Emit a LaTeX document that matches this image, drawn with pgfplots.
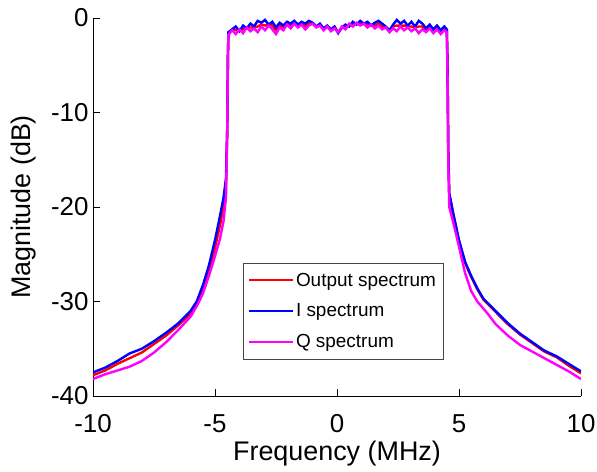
\documentclass[border=0pt]{standalone}
\usepackage{pgfplots}
\pgfplotsset{compat=1.18}
\usepackage{fontspec}
\setmainfont{Liberation Sans}
\definecolor{cred}{RGB}{255,0,0}
\definecolor{cblue}{RGB}{0,0,255}
\definecolor{cmag}{RGB}{255,0,255}
\definecolor{cgray}{RGB}{70,70,70}
\begin{document}
\begin{tikzpicture}
\begin{axis}[
  scale only axis,
  width=488bp, height=378bp,
  xmin=-10, xmax=10, ymin=-40, ymax=0,
  xtick={-10,-5,0,5,10}, ytick={-40,-30,-20,-10,0},
  axis x line*=bottom, axis y line*=left,
  axis line style={-, line width=0.8bp},
  tick align=inside, major tick length=7bp,
  tick style={black, line width=0.8bp},
  /pgf/number format/assume math mode=true,
  ticklabel style={font=\fontsize{26}{30}\selectfont},
  yticklabel style={xshift=-1bp},
  xticklabel style={yshift=-15bp},
  label style={font=\fontsize{27}{31}\selectfont},
  xlabel={Frequency (MHz)}, ylabel={Magnitude (dB)},
  xlabel style={yshift=-1bp}, ylabel style={yshift=8bp},
  legend style={at={(0.307,0.352)}, anchor=north west, draw=cgray,
    font=\fontsize{19}{22}\selectfont, row sep=12bp, inner xsep=5bp, inner ysep=8bp},
  legend cell align=left,
  legend image code/.code={\draw[#1, line width=2bp] (0bp,0bp) -- (44bp,0bp);},
  every axis plot/.append style={line width=2.4bp},
]
\addlegendimage{cred}
\addlegendentry{Output spectrum}
\addlegendimage{cblue}
\addlegendentry{I spectrum}
\addlegendimage{cmag}
\addlegendentry{Q spectrum}
\addplot[color=cred, forget plot] coordinates {
(-10,-37.8) (-9.5,-37.3) (-9,-36.6) (-8.5,-36.0) (-8,-35.4) (-7.5,-34.5) (-7,-33.6) (-6.5,-32.5) (-6,-31.3) (-5.75,-30.3) (-5.5,-28.8) (-5.25,-26.8) (-5,-24.3) (-4.8,-22) (-4.65,-20) (-4.55,-18) (-4.5,-12) (-4.47,-4)
(-4.45,-1.6) (-4.3,-1.2) (-4.15,-1.3) (-4.0,-1.3) (-3.85,-1.2) (-3.7,-1.0) (-3.55,-1.0) (-3.4,-1.0) (-3.25,-0.9) (-3.1,-0.7) (-2.95,-0.8) (-2.8,-0.7) (-2.65,-0.8) (-2.5,-1.3) (-2.35,-0.8) (-2.2,-1.0) (-2.05,-0.6) (-1.9,-0.8) (-1.75,-0.5) (-1.6,-0.8) (-1.45,-0.6) (-1.3,-0.9) (-1.15,-0.6) (-1.0,-0.6) (-0.85,-0.9) (-0.7,-0.7) (-0.55,-1.2) (-0.4,-0.9) (-0.25,-1.3) (-0.1,-1.0) (0.05,-1.5) (0.2,-1.0) (0.35,-0.9) (0.5,-0.8) (0.65,-0.7) (0.8,-0.6) (0.95,-0.6) (1.1,-0.6) (1.25,-0.7) (1.4,-0.8) (1.55,-0.8) (1.7,-0.6) (1.85,-0.9) (2.0,-1.0) (2.15,-1.4) (2.3,-0.9) (2.45,-0.8) (2.6,-0.8) (2.75,-0.8) (2.9,-0.9) (3.05,-0.9) (3.2,-1.0) (3.35,-0.9) (3.5,-0.9) (3.65,-1.3) (3.8,-0.9) (3.95,-1.4) (4.1,-1.0) (4.25,-1.5) (4.4,-1.1) (4.5,-1.3)
(4.53,-5) (4.56,-14) (4.6,-18.6) (4.75,-20.6) (5,-23.6) (5.25,-25.9) (5.5,-27.4) (5.75,-28.7) (6,-29.8) (6.5,-31.1) (7,-32.4) (7.5,-33.5) (8,-34.4) (8.5,-35.3) (9,-35.9) (9.5,-36.8) (10,-37.6)
};
\addplot[color=cblue, forget plot] coordinates {
(-10,-37.5) (-9.5,-37.0) (-9,-36.3) (-8.5,-35.5) (-8,-35.0) (-7.5,-34.2) (-7,-33.3) (-6.5,-32.3) (-6,-31.0) (-5.75,-30.0) (-5.5,-28.3) (-5.25,-26.2) (-5,-23.5) (-4.8,-21) (-4.65,-19) (-4.55,-17) (-4.5,-12) (-4.47,-4)
(-4.45,-1.5) (-4.3,-1.2) (-4.15,-0.9) (-4.0,-1.4) (-3.85,-0.8) (-3.7,-1.1) (-3.55,-0.6) (-3.4,-0.9) (-3.25,-0.3) (-3.1,-0.5) (-2.95,-0.2) (-2.8,-0.7) (-2.65,-0.4) (-2.5,-1.0) (-2.35,-0.5) (-2.2,-0.8) (-2.05,-0.4) (-1.9,-0.6) (-1.75,-0.3) (-1.6,-0.7) (-1.45,-0.4) (-1.3,-0.6) (-1.15,-0.3) (-1.0,-0.5) (-0.85,-0.9) (-0.7,-0.6) (-0.55,-1.1) (-0.4,-0.8) (-0.25,-1.2) (-0.1,-0.9) (0.05,-1.6) (0.2,-1.0) (0.35,-0.7) (0.5,-0.9) (0.65,-0.4) (0.8,-0.7) (0.95,-0.3) (1.1,-0.6) (1.25,-0.4) (1.4,-0.8) (1.55,-0.5) (1.7,-0.3) (1.85,-0.6) (2.0,-0.9) (2.15,-1.3) (2.3,-0.7) (2.45,-0.2) (2.6,-0.6) (2.75,-0.3) (2.9,-0.8) (3.05,-0.4) (3.2,-0.9) (3.35,-0.3) (3.5,-0.6) (3.65,-1.1) (3.8,-0.7) (3.95,-1.2) (4.1,-0.8) (4.25,-1.3) (4.4,-0.9) (4.5,-1.2)
(4.53,-5) (4.56,-14) (4.6,-18.5) (4.75,-20.5) (5,-23.5) (5.25,-25.8) (5.5,-27.3) (5.75,-28.6) (6,-29.7) (6.5,-31.0) (7,-32.3) (7.5,-33.4) (8,-34.3) (8.5,-35.2) (9,-35.8) (9.5,-36.6) (10,-37.4)
};
\addplot[color=cmag, forget plot] coordinates {
(-10,-38.2) (-9.5,-37.7) (-9,-37.3) (-8.5,-36.9) (-8,-36.3) (-7.5,-35.4) (-7,-34.3) (-6.5,-33.0) (-6,-31.6) (-5.75,-30.5) (-5.5,-29.2) (-5.25,-27.3) (-5,-25.2) (-4.8,-23.4) (-4.65,-21.5) (-4.55,-19) (-4.5,-12) (-4.47,-4)
(-4.45,-1.8) (-4.3,-1.3) (-4.15,-1.7) (-4.0,-1.2) (-3.85,-1.6) (-3.7,-1.0) (-3.55,-1.4) (-3.4,-1.1) (-3.25,-1.5) (-3.1,-0.9) (-2.95,-1.3) (-2.8,-0.8) (-2.65,-1.2) (-2.5,-1.7) (-2.35,-1.0) (-2.2,-1.3) (-2.05,-0.7) (-1.9,-1.1) (-1.75,-0.6) (-1.6,-1.0) (-1.45,-0.7) (-1.3,-1.2) (-1.15,-0.8) (-1.0,-0.6) (-0.85,-1.0) (-0.7,-0.8) (-0.55,-1.3) (-0.4,-0.9) (-0.25,-1.4) (-0.1,-1.1) (0.05,-1.5) (0.2,-0.9) (0.35,-1.2) (0.5,-0.6) (0.65,-0.9) (0.8,-0.5) (0.95,-0.8) (1.1,-0.6) (1.25,-1.0) (1.4,-0.7) (1.55,-1.1) (1.7,-0.8) (1.85,-1.2) (2.0,-1.0) (2.15,-1.5) (2.3,-1.1) (2.45,-1.4) (2.6,-0.9) (2.75,-1.3) (2.9,-1.0) (3.05,-1.4) (3.2,-1.1) (3.35,-1.6) (3.5,-1.2) (3.65,-1.5) (3.8,-1.1) (3.95,-1.6) (4.1,-1.2) (4.25,-1.7) (4.4,-1.3) (4.5,-1.5)
(4.53,-6) (4.56,-15) (4.6,-20) (4.75,-21.5) (4.9,-23.1) (5.25,-27) (5.5,-28.9) (5.75,-30) (6.15,-31.2) (6.5,-32.4) (7,-33.6) (7.5,-34.6) (8,-35.3) (8.5,-36) (9,-36.7) (9.5,-37.4) (10,-38.2)
};
\end{axis}
\pgfresetboundingbox
\path (current axis.south west) ++(-93bp,-76bp) rectangle ++(597bp,472bp);
\end{tikzpicture}
\end{document}
